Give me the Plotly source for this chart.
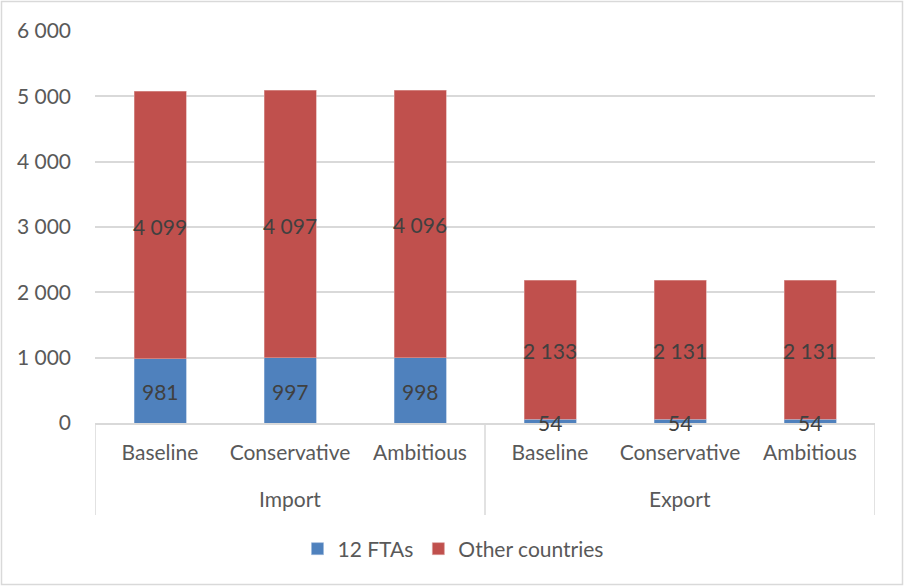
import plotly.graph_objects as go

groups = ["Import", "Import", "Import", "Export", "Export", "Export"]
scenarios = ["Baseline", "Conservative", "Ambitious", "Baseline", "Conservative", "Ambitious"]
fta12 = [981, 997, 998, 54, 54, 54]
other = [4099, 4097, 4096, 2133, 2131, 2131]

FONT = "Lato"
FS = 21
TXT = "#595959"
LBL = "#404040"
GRID = "#D9D9D9"

W, H = 904, 586
L, R, T, B = 95, 29, 31, 163
pw = W - L - R
ph = H - T - B

xpos = list(range(len(scenarios)))

fig = go.Figure()
series = [("12 FTAs", fta12, "#4F81BD", "#9BB7DA"),
          ("Other countries", other, "#C0504D", "#DCA09E")]
for name, vals, col, edge in series:
    fig.add_trace(go.Bar(
        name=name, x=xpos, y=vals,
        marker=dict(color=col, line=dict(color=edge, width=0.6)),
        hovertemplate="%{y}<extra>" + name + "</extra>",
    ))

# data labels centred in each segment, drawn above all bars
base = [0] * len(xpos)
for name, vals, col, edge in series:
    for xi, b, v in zip(xpos, base, vals):
        fig.add_annotation(x=xi, y=b + v / 2, xref="x", yref="y",
                           text=f"{v:,}".replace(",", " "), showarrow=False,
                           yanchor="middle", yshift=-1,
                           font=dict(family=FONT, size=FS, color=LBL))
    base = [b + v for b, v in zip(base, vals)]

# group labels and dividers
glist = []
for g in groups:
    if g not in glist:
        glist.append(g)
div_bottom = -(515 - (H - B)) / ph
for g in glist:
    idx = [i for i, gg in enumerate(groups) if gg == g]
    fig.add_annotation(x=sum(xpos[i] for i in idx) / len(idx), xref="x",
                       y=-(499 - (H - B)) / ph, yref="paper", yanchor="middle",
                       text=g, showarrow=False,
                       font=dict(family=FONT, size=FS, color=TXT))
bounds = [-0.5]
for i in range(1, len(groups)):
    if groups[i] != groups[i - 1]:
        bounds.append(i - 0.5)
bounds.append(len(groups) - 0.5)
for bx in bounds:
    fig.add_shape(type="line", xref="x", yref="paper", x0=bx, x1=bx, y0=0, y1=div_bottom,
                  line=dict(color=GRID, width=1.5), layer="below")

# outer border
fig.add_shape(type="rect", xref="paper", yref="paper",
              x0=(1.5 - L) / pw, x1=(W - 1.5 - L) / pw,
              y0=-(H - 1.5 - T - ph) / ph, y1=1 + (T - 1.5) / ph,
              line=dict(color=GRID, width=1.5), layer="below")

fig.update_layout(
    width=W, height=H,
    margin=dict(l=L, r=R, t=T, b=B, autoexpand=False),
    paper_bgcolor="white", plot_bgcolor="white",
    barmode="stack", bargap=0.6,
    separators=". ",
    font=dict(family=FONT, size=FS, color=TXT),
    showlegend=True,
    legend=dict(orientation="h", x=(453 - L) / pw, xanchor="center",
                y=-(549 - (H - B)) / ph, yanchor="middle",
                font=dict(family=FONT, size=FS, color=TXT), traceorder="normal"),
    xaxis=dict(range=[-0.5, len(scenarios) - 0.5], tickvals=xpos, ticktext=scenarios,
               showline=True, linecolor=GRID, linewidth=1.5, showgrid=False, zeroline=False,
               ticks="", ticklabelstandoff=10, automargin=False, layer="below traces",
               tickfont=dict(family=FONT, size=FS, color=TXT)),
    yaxis=dict(range=[0, 6000], dtick=1000, tickformat=",d", showgrid=True,
               gridcolor=GRID, gridwidth=1.5, zeroline=False, automargin=False,
               layer="below traces",
               tickfont=dict(family=FONT, size=FS, color=TXT), ticklabelstandoff=23),
)

fig.write_html("out.html", config={"displayModeBar": False},
               post_script="document.body.style.margin='0px';")
